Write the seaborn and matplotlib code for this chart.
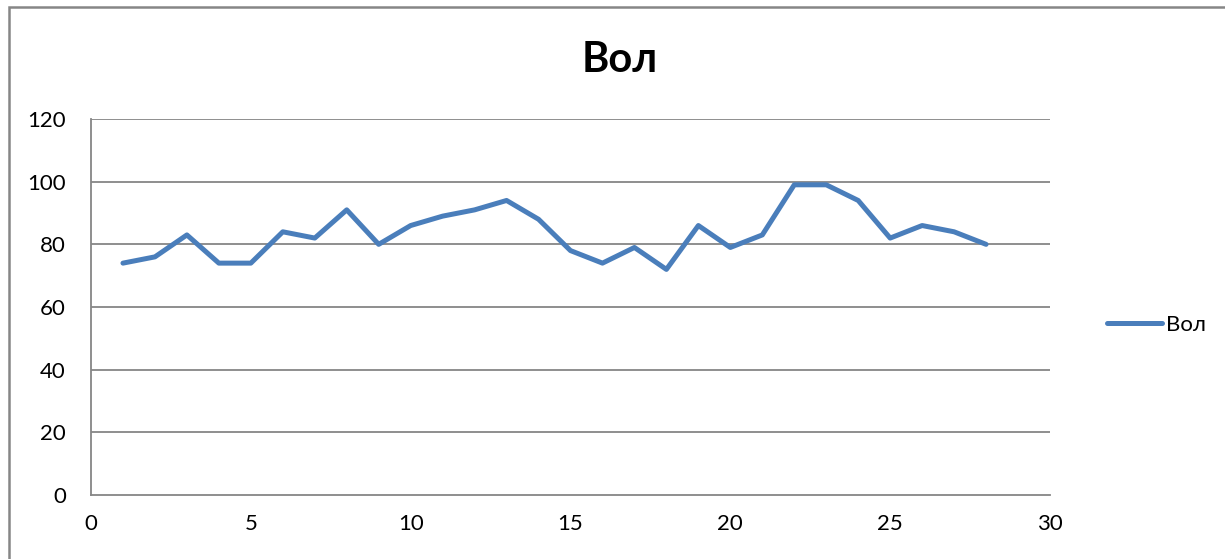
import matplotlib
matplotlib.use("Agg")
import matplotlib.pyplot as plt
import seaborn as sns
import pandas as pd
from matplotlib.patches import Rectangle

days = list(range(1, 29))
vol = [74, 76, 83, 74, 74, 84, 82, 91, 80, 86, 89, 91, 94, 88,
       78, 74, 79, 72, 86, 79, 83, 99, 99, 94, 82, 86, 84, 80]
series_name = "Вол"
x_ticks = [0, 5, 10, 15, 20, 25, 30]
y_ticks = [0, 20, 40, 60, 80, 100, 120]

sns.set_style("white")
plt.rcParams['font.family'] = ['Lato', 'DejaVu Sans']
plt.rcParams['text.color'] = 'black'

df = pd.DataFrame({"x": days, "y": vol})

W, H = 1225, 559
fig = plt.figure(figsize=(W / 100, H / 100), dpi=100)
ax = fig.add_axes([91 / W, (H - 495) / H, (1050 - 91) / W, (495 - 119) / H])

grid_c = "#868686"
sns.lineplot(data=df, x="x", y="y", ax=ax, color="#4A7EBB", linewidth=3.6,
             label=series_name, solid_joinstyle="round", solid_capstyle="round")

ax.set_xlim(0, 30)
ax.set_ylim(0, 120)
ax.set_xticks(x_ticks)
ax.set_yticks(y_ticks)
ax.set_xlabel("")
ax.set_ylabel("")
for yv in y_ticks[1:]:
    ax.axhline(yv, color=grid_c, linewidth=1.3, zorder=0)
for s in ["top", "right"]:
    ax.spines[s].set_visible(False)
for s in ["left", "bottom"]:
    ax.spines[s].set_color(grid_c)
    ax.spines[s].set_linewidth(1.3)
ax.tick_params(axis="both", direction="out", length=6, width=1.3, color=grid_c,
               labelsize=16, labelcolor="black")
ax.tick_params(axis="y", pad=12)
ax.tick_params(axis="x", pad=8)

fig.text(620 / W, 1 - 60 / H, "Вол", ha="center", va="center",
         fontsize=30, fontweight="bold", color="black")

leg = ax.legend(loc="center left", bbox_to_anchor=(1098 / W, 1 - 325 / H),
                bbox_transform=fig.transFigure, frameon=False, fontsize=16,
                handlelength=2.5, handletextpad=0.15, borderaxespad=0)

fig.patches.append(Rectangle((8.5 / W, -0.1), 1.2, 1.1 - 7.5 / H,
                             transform=fig.transFigure, fill=False,
                             edgecolor=grid_c, linewidth=1.8))

fig.savefig("out.png", dpi=100)
